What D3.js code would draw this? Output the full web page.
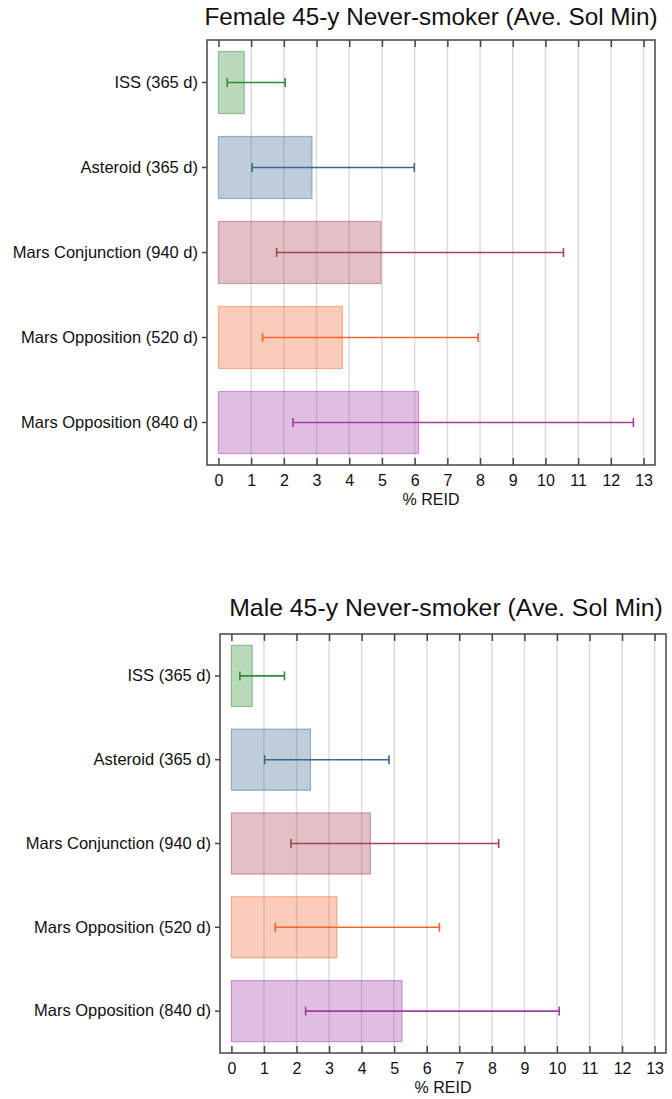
<!DOCTYPE html>
<html><head><meta charset="utf-8">
<script src="https://cdn.jsdelivr.net/npm/d3@7"></script>
<style>body{margin:0;background:#fff;} svg{display:block;font-family:"Liberation Sans",Arial,sans-serif;}</style>
</head><body>
<svg id="c" width="672" height="1099"></svg>
<script>
const categories = ["ISS (365 d)","Asteroid (365 d)","Mars Conjunction (940 d)","Mars Opposition (520 d)","Mars Opposition (840 d)"];
const colors = ["#2f8a35","#3d6590","#a44350","#f2642e","#a23aa8"];
const xTicks = [0,1,2,3,4,5,6,7,8,9,10,11,12,13];
const femaleTitle = "Female 45-y Never-smoker (Ave. Sol Min)";
const femaleREID = [0.79, 2.86, 4.97, 3.79, 6.12];
const femaleLow  = [0.27, 1.03, 1.78, 1.35, 2.28];
const femaleHigh = [2.04, 5.99, 10.55, 7.94, 12.69];
const maleTitle = "Male 45-y Never-smoker (Ave. Sol Min)";
const maleREID = [0.64, 2.43, 4.27, 3.24, 5.24];
const maleLow  = [0.26, 1.02, 1.83, 1.35, 2.28];
const maleHigh = [1.63, 4.84, 8.21, 6.39, 10.07];

const svg = d3.select("#c");
const FONT = "'Liberation Sans',Arial,sans-serif";

function panel(cfg){
  const g = svg.append("g");
  const x = d3.scaleLinear().domain([-0.35, 13.35]).range([cfg.left, cfg.right]);
  const y = d3.scaleBand().domain(categories).range([cfg.top, cfg.bottom]).paddingInner(0.27).paddingOuter(0.135);
  // gridlines
  g.selectAll("line.grid").data(xTicks.filter(d=>d>0)).join("line")
    .attr("x1", d=>x(d)).attr("x2", d=>x(d)).attr("y1", cfg.top).attr("y2", cfg.bottom)
    .attr("stroke", "#dcdcdc").attr("stroke-width", 1.5);
  // bars
  const data = categories.map((c,i)=>({c, v:cfg.vals[i], lo:cfg.lo[i], hi:cfg.hi[i], col:colors[i]}));
  g.selectAll("rect.bar").data(data).join("rect")
    .attr("x", x(0)).attr("y", d=>y(d.c)).attr("width", d=>x(d.v)-x(0)).attr("height", y.bandwidth())
    .attr("fill", d=>d.col).attr("fill-opacity", 0.33)
    .attr("stroke", d=>d.col).attr("stroke-opacity", 0.45).attr("stroke-width", 1.2);
  // error bars
  const eb = g.selectAll("g.eb").data(data).join("g").attr("stroke", d=>d.col).attr("stroke-width", 1.6);
  eb.append("line").attr("x1", d=>x(d.lo)).attr("x2", d=>x(d.hi))
    .attr("y1", d=>y(d.c)+y.bandwidth()/2).attr("y2", d=>y(d.c)+y.bandwidth()/2);
  eb.append("line").attr("x1", d=>x(d.lo)).attr("x2", d=>x(d.lo))
    .attr("y1", d=>y(d.c)+y.bandwidth()/2-4.5).attr("y2", d=>y(d.c)+y.bandwidth()/2+4.5);
  eb.append("line").attr("x1", d=>x(d.hi)).attr("x2", d=>x(d.hi))
    .attr("y1", d=>y(d.c)+y.bandwidth()/2-4.5).attr("y2", d=>y(d.c)+y.bandwidth()/2+4.5);
  // frame
  g.append("rect").attr("x", cfg.left).attr("y", cfg.top).attr("width", cfg.right-cfg.left).attr("height", cfg.bottom-cfg.top)
    .attr("fill","none").attr("stroke","#444").attr("stroke-width",1.5);
  // bottom axis (inward ticks)
  const xb = g.append("g").attr("transform", `translate(0,${cfg.bottom})`)
    .call(d3.axisBottom(x).tickValues(xTicks).tickSizeInner(-7).tickSizeOuter(0).tickPadding(10));
  xb.select(".domain").remove();
  xb.selectAll(".tick line").attr("stroke","#444").attr("stroke-width",1.5);
  xb.selectAll("text").attr("font-size",16).attr("fill","#111").attr("font-family",FONT);
  // top ticks (inward)
  const xt = g.append("g").attr("transform", `translate(0,${cfg.top})`)
    .call(d3.axisTop(x).tickValues(xTicks).tickSizeInner(-7).tickSizeOuter(0).tickFormat(""));
  xt.select(".domain").remove();
  xt.selectAll(".tick line").attr("stroke","#444").attr("stroke-width",1.5);
  // left axis
  const yl = g.append("g").attr("transform", `translate(${cfg.left},0)`)
    .call(d3.axisLeft(y).tickSizeInner(5).tickSizeOuter(0).tickPadding(4));
  yl.select(".domain").remove();
  yl.selectAll(".tick line").attr("stroke","#444").attr("stroke-width",1.5);
  yl.selectAll("text").attr("font-size",16.5).attr("fill","#111").attr("font-family",FONT);
  // axis title
  g.append("text").attr("x", (x(0)+x(13))/2).attr("y", cfg.bottom+40).attr("text-anchor","middle")
    .attr("font-size",16).attr("fill","#111").text("% REID");
  // title
  g.append("text").attr("x", cfg.titleX).attr("y", cfg.titleY).attr("text-anchor","middle")
    .attr("font-size",cfg.titleSize).attr("fill","#111").text(cfg.title);
}

panel({title:femaleTitle, vals:femaleREID, lo:femaleLow, hi:femaleHigh,
  left:207, right:655, top:40, bottom:465, titleX:431, titleY:25, titleSize:24.3});
panel({title:maleTitle, vals:maleREID, lo:maleLow, hi:maleHigh,
  left:220, right:666, top:634, bottom:1053, titleX:446, titleY:616, titleSize:24.8});
</script>
</body></html>
